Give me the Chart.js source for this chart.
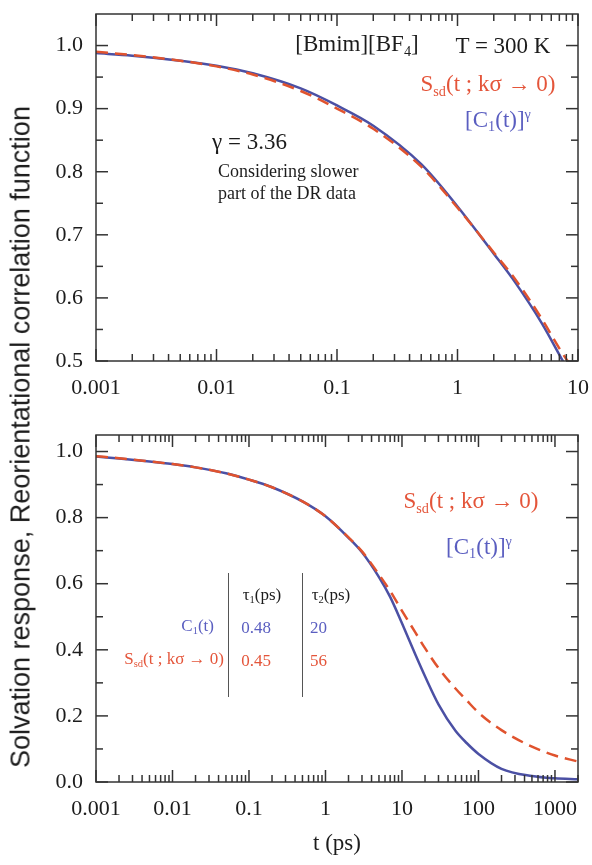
<!DOCTYPE html>
<html>
<head>
<meta charset="utf-8">
<script src="https://cdn.jsdelivr.net/npm/chart.js@4.4.0/dist/chart.umd.min.js"></script>
<style>
  body { margin: 0; background: #fff; width: 592px; height: 865px; position: relative; overflow: hidden;
         font-family: 'Liberation Serif', 'DejaVu Serif', serif; color: #1c1c1c; }
  canvas { position: absolute; left: 0; }
  #top { top: 0; }
  #bottom { top: 400px; }
  .t { position: absolute; white-space: nowrap; transform: translate(-50%, -50%); line-height: 1; }
  .l { transform: translate(0, -50%); }
  .r { transform: translate(-100%, -50%); }
  .big { font-size: 23px; }
  .mid { font-size: 18px; }
  .small { font-size: 17px; }
  .red { color: #e4553a; }
  .blue { color: #5a5ec0; }
  sub { font-size: 0.62em; vertical-align: -0.3em; }
  sup { font-size: 0.62em; vertical-align: 0.55em; }
  .vline { position: absolute; width: 0; border-left: 1.5px solid #555; }
  #ytitle { position: absolute; left: 21px; top: 437px; transform: translate(-50%, -50%) rotate(-90deg);
            font-family: 'Liberation Sans', Arial, sans-serif; font-size: 27px; white-space: nowrap; color: #1c1c1c; }
</style>
</head>
<body>
<canvas id="top" width="592" height="400"></canvas>
<canvas id="bottom" width="592" height="465"></canvas>

<div id="ytitle">Solvation response, Reorientational correlation function</div>

<div class="t big" style="left:357px;top:45px">[Bmim][BF<sub>4</sub>]</div>
<div class="t big" style="left:503px;top:45px">T = 300 K</div>
<div class="t big red" style="left:488px;top:85px">S<sub>sd</sub>(t ; kσ → 0)</div>
<div class="t big blue" style="left:498px;top:120px">[C<sub>1</sub>(t)]<sup>γ</sup></div>
<div class="t l big" style="left:212px;top:141px">γ = 3.36</div>
<div class="t l mid" style="left:218px;top:171px">Considering slower</div>
<div class="t l mid" style="left:218px;top:193px">part of the DR data</div>

<div class="t big red" style="left:471px;top:502px">S<sub>sd</sub>(t ; kσ → 0)</div>
<div class="t big blue" style="left:479px;top:547px">[C<sub>1</sub>(t)]<sup>γ</sup></div>

<div class="vline" style="left:228px;top:573px;height:124px"></div>
<div class="vline" style="left:302px;top:573px;height:124px"></div>
<div class="t small" style="left:262px;top:596px">τ<sub>1</sub>(ps)</div>
<div class="t small" style="left:331px;top:596px">τ<sub>2</sub>(ps)</div>
<div class="t r small blue" style="left:214px;top:627px">C<sub>1</sub>(t)</div>
<div class="t small blue" style="left:256px;top:627px">0.48</div>
<div class="t l small blue" style="left:310px;top:627px">20</div>
<div class="t r small red" style="left:224px;top:660px">S<sub>sd</sub>(t ; kσ → 0)</div>
<div class="t small red" style="left:256px;top:660px">0.45</div>
<div class="t l small red" style="left:310px;top:660px">56</div>

<script>
// top panel: [Bmim][BF4], gamma = 3.36
var T_TOP = [0.001, 0.002, 0.005, 0.01, 0.02, 0.05, 0.1, 0.2, 0.5, 1, 2, 3, 5, 7, 8, 10];
var C1G_TOP = [0.988, 0.984, 0.976, 0.968, 0.956, 0.932, 0.905, 0.873, 0.812, 0.745, 0.670, 0.625, 0.560, 0.510, 0.490, 0.455];
var SSD_TOP = [0.990, 0.985, 0.976, 0.967, 0.954, 0.928, 0.900, 0.868, 0.808, 0.743, 0.672, 0.630, 0.567, 0.520, 0.503, 0.480];

// bottom panel: full time range
var T_BOT = [0.001, 0.002, 0.005, 0.01, 0.02, 0.05, 0.1, 0.2, 0.5, 1, 2, 3, 5, 7, 10, 15, 20, 30, 50, 70, 100, 200, 500, 1000, 2000];
var C1G_BOT = [0.985, 0.979, 0.970, 0.962, 0.952, 0.934, 0.915, 0.892, 0.849, 0.804, 0.739, 0.695, 0.620, 0.560, 0.480, 0.385, 0.320, 0.235, 0.155, 0.118, 0.085, 0.040, 0.018, 0.011, 0.008];
var SSD_BOT = [0.986, 0.980, 0.970, 0.962, 0.952, 0.934, 0.915, 0.892, 0.849, 0.804, 0.740, 0.698, 0.628, 0.578, 0.518, 0.452, 0.405, 0.345, 0.283, 0.247, 0.210, 0.157, 0.107, 0.080, 0.062];

var X_TICKS_TOP = [0.001, 0.01, 0.1, 1, 10];
var X_TICKS_BOT = [0.001, 0.01, 0.1, 1, 10, 100, 1000];
var Y_TICKS_TOP = [0.5, 0.6, 0.7, 0.8, 0.9, 1.0];
var Y_MINOR_TOP = [0.55, 0.65, 0.75, 0.85, 0.95];
var Y_TICKS_BOT = [0, 0.2, 0.4, 0.6, 0.8, 1.0];
var Y_MINOR_BOT = [0.1, 0.3, 0.5, 0.7, 0.9];

var BLUE = '#4b50a4';
var RED = '#e0532e';
var INK = '#1c1c1c';
var FONT = "'Liberation Serif', 'DejaVu Serif', serif";

function minorDecades(majors, max) {
  var out = [];
  majors.forEach(function (d) {
    for (var k = 2; k <= 9; k++) { if (d * k <= max) out.push(d * k); }
  });
  return out;
}

function pts(xs, ys) {
  return xs.map(function (x, i) { return { x: x, y: ys[i] }; });
}

// inward ticks on all four sides plus the box
var frameTicks = {
  id: 'frameTicks',
  afterDatasetsDraw: function (chart, args, o) {
    var ctx = chart.ctx, a = chart.chartArea, x = chart.scales.x, y = chart.scales.y;
    ctx.save();
    ctx.strokeStyle = '#333';
    ctx.lineWidth = 1.5;
    function seg(x1, y1, x2, y2) { ctx.beginPath(); ctx.moveTo(x1, y1); ctx.lineTo(x2, y2); ctx.stroke(); }
    function xt(v, len) { var p = x.getPixelForValue(v); seg(p, a.bottom, p, a.bottom - len); seg(p, a.top, p, a.top + len); }
    function yt(v, len) { var p = y.getPixelForValue(v); seg(a.left, p, a.left + len, p); seg(a.right, p, a.right - len, p); }
    o.xMajor.forEach(function (v) { xt(v, 12); });
    o.xMinor.forEach(function (v) { xt(v, 7); });
    o.yMajor.forEach(function (v) { yt(v, 12); });
    o.yMinor.forEach(function (v) { yt(v, 7); });
    ctx.strokeRect(a.left, a.top, a.right - a.left, a.bottom - a.top);
    ctx.restore();
  }
};

function panel(id, cfg) {
  return new Chart(document.getElementById(id), {
    type: 'line',
    data: {
      datasets: [
        { data: pts(cfg.t, cfg.ssd), borderColor: RED, borderWidth: 2.5, borderDash: [12, 7], pointRadius: 0, cubicInterpolationMode: 'monotone' },
        { data: pts(cfg.t, cfg.c1g), borderColor: BLUE, borderWidth: 2.5, pointRadius: 0, cubicInterpolationMode: 'monotone' }
      ]
    },
    options: {
      responsive: false,
      animation: false,
      events: [],
      layout: { padding: { top: cfg.padTop, right: 14, left: 0, bottom: 0 } },
      plugins: {
        legend: { display: false },
        tooltip: { enabled: false },
        frameTicks: { xMajor: cfg.xTicks, xMinor: minorDecades(cfg.xTicks, cfg.xMax), yMajor: cfg.yTicks, yMinor: cfg.yMinor }
      },
      scales: {
        x: {
          type: 'logarithmic', min: 0.001, max: cfg.xMax, bounds: 'data',
          grid: { display: false, drawTicks: false }, border: { display: false },
          afterBuildTicks: function (s) { s.ticks = cfg.xTicks.map(function (v) { return { value: v }; }); },
          afterFit: function (s) { s.height = cfg.xHeight; s.paddingLeft = 0; s.paddingRight = 0; },
          ticks: {
            autoSkip: false, maxRotation: 0, padding: 14, color: INK,
            font: { family: FONT, size: 22 },
            callback: function (v) { return String(v); }
          },
          title: cfg.xTitle ? { display: true, text: cfg.xTitle, color: INK, font: { family: FONT, size: 23 }, padding: { top: 0, bottom: 7 } } : { display: false }
        },
        y: {
          min: cfg.yMin, max: 1.05, bounds: 'data',
          grid: { display: false, drawTicks: false }, border: { display: false },
          afterBuildTicks: function (s) { s.ticks = cfg.yTicks.map(function (v) { return { value: v }; }); },
          afterFit: function (s) { s.width = 96; s.paddingTop = 0; s.paddingBottom = 0; },
          ticks: {
            padding: 13, color: INK,
            font: { family: FONT, size: 22 },
            callback: function (v) { return v.toFixed(1); }
          }
        }
      }
    },
    plugins: [frameTicks]
  });
}

panel('top', {
  t: T_TOP, c1g: C1G_TOP, ssd: SSD_TOP,
  xMax: 10, xTicks: X_TICKS_TOP, yMin: 0.5, yTicks: Y_TICKS_TOP, yMinor: Y_MINOR_TOP,
  padTop: 14, xHeight: 39
});

panel('bottom', {
  t: T_BOT, c1g: C1G_BOT, ssd: SSD_BOT,
  xMax: 2000, xTicks: X_TICKS_BOT, yMin: 0, yTicks: Y_TICKS_BOT, yMinor: Y_MINOR_BOT,
  padTop: 35, xHeight: 83, xTitle: 't (ps)'
});
</script>
</body>
</html>
